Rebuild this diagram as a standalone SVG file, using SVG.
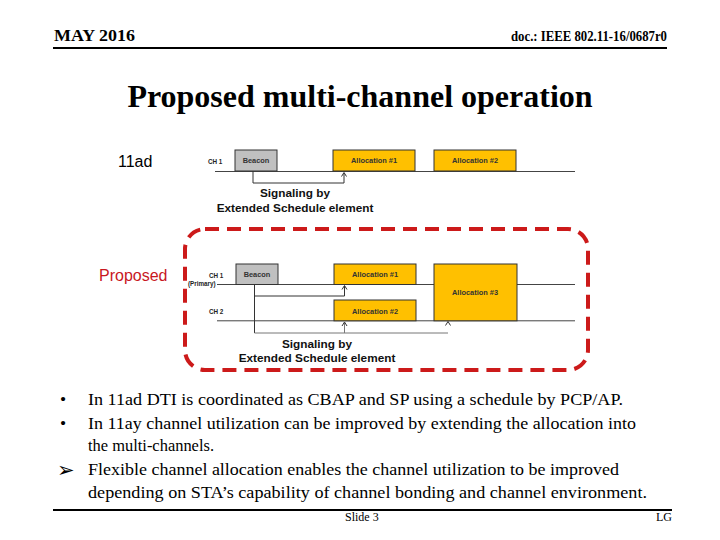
<svg xmlns="http://www.w3.org/2000/svg" width="720" height="540" viewBox="0 0 720 540">
<style>
.hdr{font-family:"Liberation Serif","Times New Roman",serif;font-weight:bold;fill:#000}
.body{font-family:"Liberation Serif","Times New Roman",serif;font-size:17.5px;fill:#000}
.foot{font-family:"Liberation Serif","Times New Roman",serif;font-size:12px;fill:#000}
.lbl{font-family:"Liberation Sans",Arial,sans-serif;font-size:16px}
.ch{font-family:"Liberation Sans",Arial,sans-serif;font-size:6.3px;font-weight:bold;fill:#222}
.bx{font-family:"Liberation Sans",Arial,sans-serif;font-size:7.4px;font-weight:bold;fill:#333;text-anchor:middle}
.sig{font-family:"Liberation Sans",Arial,sans-serif;font-size:11.8px;font-weight:bold;fill:#111;text-anchor:middle}
.beacon{fill:#c0c0c0;stroke:#333;stroke-width:1}
.alloc{fill:#ffc000;stroke:#333;stroke-width:1}
.tl{stroke:#444;stroke-width:1;fill:none}
.sl{stroke:#333;stroke-width:1;fill:none}
.sl2{stroke:#777;stroke-width:1;fill:none}
.rule{stroke:#000;stroke-width:2}
</style>
<rect width="720" height="540" fill="#fff"/>
<g id="header">
<text class="hdr" x="54" y="41" font-size="16" textLength="81" lengthAdjust="spacingAndGlyphs">MAY 2016</text>
<text class="hdr" x="511" y="41" font-size="14" textLength="156" lengthAdjust="spacingAndGlyphs">doc.: IEEE 802.11-16/0687r0</text>
<line class="rule" x1="53" y1="48" x2="667" y2="48"/>
</g>
<g id="title">
<text class="hdr" x="360" y="107" font-size="32" text-anchor="middle">Proposed multi-channel operation</text>
</g>
<g id="label-11ad"><text class="lbl" x="118" y="167" fill="#000">11ad</text></g>
<g id="label-proposed"><text class="lbl" x="99" y="281" font-size="17" fill="#c8171e">Proposed</text></g>

<g id="diagram-11ad">
<text class="ch" x="208" y="164">CH 1</text>
<line class="tl" x1="215" y1="171.5" x2="575" y2="171.5"/>
<g id="ad-beacon"><rect class="beacon" x="235" y="150" width="42" height="21"/><text class="bx" x="256" y="163">Beacon</text></g>
<g id="ad-alloc1"><rect class="alloc" x="333" y="150" width="82" height="21"/><text class="bx" x="374" y="163">Allocation #1</text></g>
<g id="ad-alloc2"><rect class="alloc" x="434" y="150" width="82" height="21"/><text class="bx" x="475" y="163">Allocation #2</text></g>
<g id="ad-connectors">
<polyline class="sl" points="253,171 253,183 344,183 344,173"/>
<polyline class="sl" points="341.5,176.5 344,172.5 346.5,176.5"/>
</g>
<text class="sig" x="295" y="197">Signaling by</text>
<text class="sig" x="295" y="212">Extended Schedule element</text>
</g>

<g id="diagram-proposed">
<rect x="185" y="229" width="403" height="141" rx="20" ry="20" fill="none" stroke="#cc1a1a" stroke-width="4" stroke-dasharray="14 8"/>
<text class="ch" x="209" y="278">CH 1</text>
<text class="ch" x="188" y="285.5">(Primary)</text>
<text class="ch" x="209" y="314">CH 2</text>
<line class="tl" x1="217" y1="284.5" x2="575" y2="284.5"/>
<line class="tl" x1="217" y1="320.8" x2="575" y2="320.8"/>
<g id="p-beacon"><rect class="beacon" x="236" y="264" width="42" height="20.5"/><text class="bx" x="257" y="276.5">Beacon</text></g>
<g id="p-alloc1"><rect class="alloc" x="334" y="264" width="82" height="20.5"/><text class="bx" x="375" y="277">Allocation #1</text></g>
<g id="p-alloc2"><rect class="alloc" x="334" y="300" width="82" height="20.8"/><text class="bx" x="375" y="313.5">Allocation #2</text></g>
<g id="p-alloc3"><rect class="alloc" x="434" y="264" width="83" height="56.8"/><text class="bx" x="475" y="295">Allocation #3</text></g>
<g id="p-connectors">
<polyline class="sl" points="254.5,284.5 254.5,333"/>
<polyline class="sl" points="254.5,296 344.5,296 344.5,286"/>
<polyline class="sl" points="342,289.5 344.5,285.5 347,289.5"/>
<polyline class="sl2" points="254.5,333 448,333"/>
<polyline class="sl2" points="344.5,333 344.5,323"/>
<polyline class="sl" points="342,326 344.5,322 347,326"/>
<polyline class="sl" points="445.5,325.5 448,321.5 450.5,325.5"/>
</g>
<text class="sig" x="317" y="348">Signaling by</text>
<text class="sig" x="317" y="362">Extended Schedule element</text>
</g>

<g id="bullets">
<text class="body" x="60" y="405">•</text>
<text class="body" x="88" y="405" textLength="535" lengthAdjust="spacingAndGlyphs">In 11ad DTI is coordinated as CBAP and SP using a schedule by PCP/AP.</text>
<text class="body" x="60" y="429">•</text>
<text class="body" x="88" y="429" textLength="548" lengthAdjust="spacingAndGlyphs">In 11ay channel utilization can be improved by extending the allocation into</text>
<text class="body" x="88" y="451" textLength="126" lengthAdjust="spacingAndGlyphs">the multi-channels.</text>
<text x="57" y="477" font-family="DejaVu Sans,sans-serif" font-size="21" fill="#000">➢</text>
<text class="body" x="88" y="475" textLength="531" lengthAdjust="spacingAndGlyphs">Flexible channel allocation enables the channel utilization to be improved</text>
<text class="body" x="88" y="498" textLength="559" lengthAdjust="spacingAndGlyphs">depending on STA’s capability of channel bonding and channel environment.</text>
</g>
<g id="footer">
<line class="rule" x1="53" y1="510" x2="672" y2="510"/>
<text class="foot" x="345" y="521">Slide 3</text>
<text class="foot" x="672" y="521" text-anchor="end">LG</text>
</g>
</svg>
